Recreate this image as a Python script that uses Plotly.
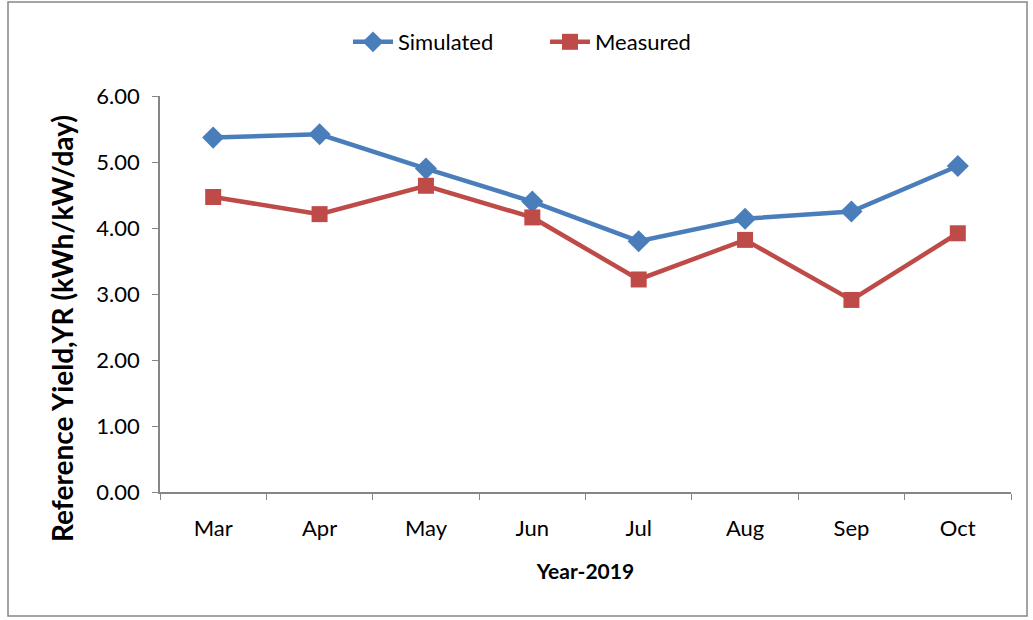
import plotly.graph_objects as go

months = ["Mar", "Apr", "May", "Jun", "Jul", "Aug", "Sep", "Oct"]
simulated = [5.37, 5.42, 4.90, 4.40, 3.80, 4.14, 4.25, 4.94]
measured = [4.47, 4.21, 4.64, 4.16, 3.22, 3.82, 2.91, 3.92]
y_ticks = [0, 1, 2, 3, 4, 5, 6]

W, H = 1033, 620
L, R, T, B = 160, 22, 96, 128
pw, ph = W - L - R, H - T - B

fig = go.Figure()
fig.add_trace(go.Scatter(
    x=months, y=simulated, name="Simulated", mode="lines+markers",
    line=dict(color="#4A7EBB", width=4.5),
    marker=dict(symbol="diamond", size=17, color="#4A7EBB"),
))
fig.add_trace(go.Scatter(
    x=months, y=measured, name="Measured", mode="lines+markers",
    line=dict(color="#BE4B48", width=4.5),
    marker=dict(symbol="square", size=16, color="#BE4B48"),
))

# pixel -> paper coordinate helpers
def px_x(v):
    return (v - L) / pw

def px_y(v):
    return (H - B - v) / ph

# outer chart border
fig.add_shape(type="rect", xref="paper", yref="paper",
              x0=px_x(8), x1=px_x(1027), y0=px_y(616), y1=px_y(2),
              line=dict(color="#868686", width=1.5), fillcolor="rgba(0,0,0,0)")

# vertical axis title
fig.add_annotation(text="<b>Reference Yield,YR (kWh/kW/day)</b>", textangle=-90,
                   xref="paper", yref="paper", x=px_x(62), y=px_y(329),
                   xanchor="center", yanchor="middle", showarrow=False,
                   font=dict(size=28))

font = "Lato, 'Open Sans', sans-serif"
fig.update_layout(
    width=W, height=H,
    margin=dict(l=L, r=R, t=T, b=B),
    paper_bgcolor="white", plot_bgcolor="white",
    font=dict(family=font, size=22, color="black"),
    showlegend=True,
    legend=dict(orientation="h", x=px_x(348), xanchor="left", y=px_y(42), yanchor="middle",
                font=dict(size=22), entrywidth=142, entrywidthmode="pixels",
                itemwidth=40, tracegroupgap=0),
    xaxis=dict(
        type="category", showgrid=False, showline=True, linecolor="#868686", linewidth=1.5,
        ticks="outside", tickson="boundaries", ticklen=6, tickcolor="#868686",
        tickfont=dict(size=22), range=[-0.5, 7.5], ticklabelstandoff=16,
        title=dict(text="<b>Year-2019</b>", font=dict(size=21), standoff=24),
    ),
    yaxis=dict(
        range=[0, 6], tickvals=y_ticks, tickformat=".2f", showgrid=False,
        showline=True, linecolor="#868686", linewidth=1.5, zeroline=False,
        ticks="outside", ticklen=6, tickcolor="#868686", tickfont=dict(size=22),
        ticklabelstandoff=8,
    ),
)

fig.write_html("out.html")
